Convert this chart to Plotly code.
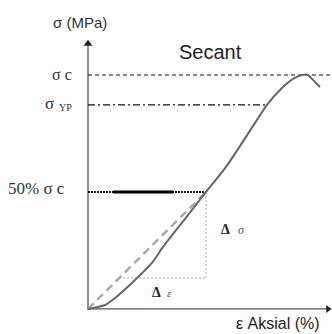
import plotly.graph_objects as go

# Stress-strain curve of a rock specimen (axial strain in %, stress in MPa)
strain = [0.0, 0.085, 0.135, 0.235, 0.32, 0.375, 0.48, 0.59, 0.69, 0.845, 0.895, 0.96, 1.025, 1.07, 1.10, 1.125, 1.16]
stress = [0.0, 1.7, 4.7, 12.4, 19.7, 26.5, 38.0, 50.0, 60.7, 80.8, 87.2, 93.6, 98.3, 100.0, 100.0, 97.9, 94.9]

sigma_c = 100.0      # peak (compressive) strength
sigma_yp = 87.2      # yield point
half_ratio = 0.5     # secant taken at 50% of sigma_c
strain_half = 0.59   # strain at 50% sigma_c
delta_base = 13.2    # lower stress of the secant triangle
strain_yp = 0.895
strain_max = 1.22
stress_axis_top = 115.8
strain_axis_end = 1.215
thick_seg = [0.125, 0.425]

sigma_half = half_ratio * sigma_c
strain_base = delta_base / sigma_half * strain_half

SERIF = "Liberation Serif"
SANS = "Liberation Sans"

fig = go.Figure()

# axes
fig.add_trace(go.Scatter(x=[0, 0], y=[-0.5, stress_axis_top - 3], mode="lines",
                         line=dict(color="#555", width=1.3)))
fig.add_trace(go.Scatter(x=[0, strain_axis_end - 0.02], y=[0, 0], mode="lines",
                         line=dict(color="#555", width=1.3)))
fig.add_trace(go.Scatter(x=[0], y=[stress_axis_top - 2.5], mode="markers",
                         marker=dict(symbol="triangle-up", size=8, color="#222")))
fig.add_trace(go.Scatter(x=[strain_axis_end - 0.015], y=[0], mode="markers",
                         marker=dict(symbol="triangle-right", size=7, color="#222")))

# reference levels
fig.add_trace(go.Scatter(x=[0, strain_max], y=[sigma_c, sigma_c], mode="lines",
                         line=dict(color="#111", width=1.2, dash="4px,3px")))
fig.add_trace(go.Scatter(x=[0, strain_yp], y=[sigma_yp, sigma_yp], mode="lines",
                         line=dict(color="#111", width=1.2, dash="7px,3px,2px,3px")))
fig.add_trace(go.Scatter(x=[0, strain_half], y=[sigma_half, sigma_half], mode="lines",
                         line=dict(color="#111", width=2, dash="2px,1px")))
fig.add_trace(go.Scatter(x=thick_seg, y=[sigma_half, sigma_half], mode="lines",
                         line=dict(color="#000", width=3)))

# secant triangle
fig.add_trace(go.Scatter(x=[strain_base, strain_half], y=[delta_base, delta_base], mode="lines",
                         line=dict(color="#bbb", width=1.3, dash="2px,2px")))
fig.add_trace(go.Scatter(x=[strain_half, strain_half], y=[delta_base, sigma_half], mode="lines",
                         line=dict(color="#bbb", width=1.3, dash="2px,2px")))
fig.add_trace(go.Scatter(x=[0, strain_half], y=[0, sigma_half], mode="lines",
                         line=dict(color="#aaa", width=2.5, dash="8px,5px")))

# stress-strain curve
fig.add_trace(go.Scatter(x=strain, y=stress, mode="lines",
                         line=dict(color="#666", width=2, shape="spline", smoothing=0.6)))


def label(x, y, text, family, size, anchor="center", color="#333", **style):
    return dict(x=x, y=y, text=text, showarrow=False, xanchor=anchor,
                font=dict(family=family, size=size, color=color, **style))


annotations = [
    label(-0.04, stress_axis_top + 6.6, "σ (MPa)", SANS, 15),
    label(0.61, 110.0, "Secant", SANS, 20, color="#222"),
    label(-0.07, sigma_c, "σ c", SERIF, 16, "right"),
    label(-0.16, sigma_yp + 0.8, "σ", SERIF, 17, "right"),
    label(-0.07, sigma_yp - 1.0, "YP", SERIF, 10, "right"),
    label(-0.105, sigma_half + 1.5, "50% σ c", SERIF, 17, "right"),
    label(strain_half + 0.065, 33.8, "Δ", SERIF, 14, "left", "#222", weight="bold"),
    label(strain_half + 0.15, 33.8, "σ", SERIF, 12, "left", "#555", style="italic"),
    label(0.31, 7.0, "Δ", SERIF, 14, "left", "#222", weight="bold"),
    label(0.385, 7.0, "ε", SERIF, 11, "left", "#555", style="italic"),
    label(1.17, -6.4, "ε Aksial (%)", SANS, 16, "right", "#222"),
]

fig.update_layout(
    width=332, height=334,
    margin=dict(l=0, r=0, t=0, b=0),
    paper_bgcolor="white", plot_bgcolor="white",
    showlegend=False,
    xaxis=dict(visible=False, range=[-0.44, 1.22], fixedrange=True),
    yaxis=dict(visible=False, range=[-10.7, 132.05], fixedrange=True),
    annotations=annotations,
)

fig.write_html("out.html")
